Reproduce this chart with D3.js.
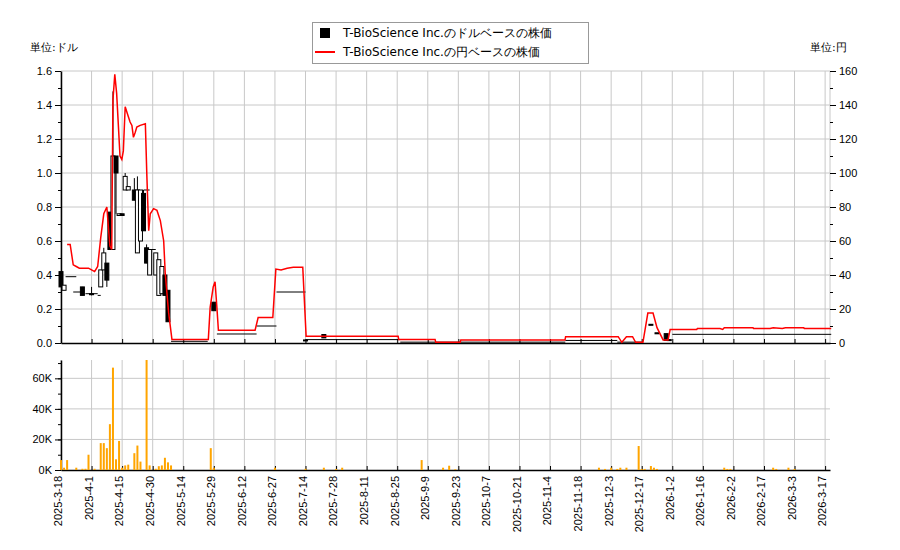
<!DOCTYPE html>
<meta charset="utf-8">
<style>
  body{margin:0;background:#fff;font-family:"DejaVu Sans",sans-serif;}
  text{font-size:11px;}
</style>
<svg id="chart" width="900" height="550"></svg>
<script src="https://d3js.org/d3.v7.min.js"></script>
<script>
// x positions are trading-day indexes (0 = 2025-3-18)
var tickLabels = ["2025-3-18","2025-4-1","2025-4-15","2025-4-30","2025-5-14","2025-5-29","2025-6-12","2025-6-27",
  "2025-7-14","2025-7-28","2025-8-11","2025-8-25","2025-9-9","2025-9-23","2025-10-7","2025-10-21","2025-11-4",
  "2025-11-18","2025-12-3","2025-12-17","2026-1-2","2026-1-16","2026-2-2","2026-2-17","2026-3-3","2026-3-17"];

// yen price line: [day, yen]
var yenLine = [[2,58],[3,58],[4,46],[5,45],[6,44],[9,44],[10,43],[11,42],[12,45],[13,62],[14,76],[15,80],[16,57],[16.6,55],
  [17,143],[17.6,158],[18.2,147],[18.8,127],[19.3,110],[19.9,108],[20.4,113],[21,139],[21.7,135],[22.6,130],[23.2,128],
  [23.7,121],[24.3,124],[24.8,127],[25.9,128],[27.6,129],[28.1,98],[28.7,66],[29.2,76],[30.3,79],[31.4,78],[32.5,72],
  [33.6,60],[34.1,41],[35.2,18],[36.3,2],[48.2,2],[48.8,21],[49.8,33],[50.4,36],[51,21],[51.5,7.5],[63.5,7.5],[64.5,15],
  [69.3,15],[70.3,43.5],[72,43],[74,44],[76,44.5],[79.1,44.5],[80.2,4],[110.3,4],[110.5,2],[122.4,2],[122.6,0.4],
  [130.6,0.4],[130.8,1.8],[164.9,1.8],[165.1,3.7],[182.3,3.7],[183.5,0.4],[185,3.7],[187,3.7],[188,0.4],[190.4,0.4],
  [192,17.6],[193.7,17.6],[195,9],[197,1.8],[198.6,1.8],[199.3,8],[208,8],[208.2,8.5],[215.6,8.5],[216.5,8],[217,9],
  [226.4,9],[226.6,8.5],[232,8.5],[233,9],[236,8.5],[237,9],[243,9],[243.2,8.5],[252,8.5]];

// candles in USD: [day, open, high, low, close]
var candles = [[0,0.42,0.42,0.33,0.33],[1,0.31,0.34,0.31,0.34],[7,0.33,0.33,0.28,0.28],[10,0.29,0.33,0.28,0.29],
  [13,0.33,0.43,0.33,0.43],[14,0.43,0.56,0.43,0.53],[15,0.47,0.47,0.33,0.37],[16,0.77,0.77,0.55,0.55],
  [17,0.55,1.48,0.55,1.1],[18,1.1,1.1,0.76,1.0],[19,0.75,0.76,0.75,0.76],[20,0.76,0.76,0.75,0.75],
  [21,0.9,1.0,0.9,0.98],[22,0.9,0.92,0.9,0.92],[24,0.9,0.97,0.84,0.84],[25,0.53,0.98,0.53,0.9],
  [26,0.6,0.9,0.6,0.9],[27,0.88,0.9,0.66,0.66],[28,0.56,0.58,0.47,0.47],[29,0.4,0.55,0.4,0.55],
  [31,0.4,0.53,0.4,0.53],[32,0.28,0.49,0.28,0.49],[33,0.29,0.45,0.29,0.45],[34,0.4,0.4,0.28,0.28],
  [35,0.31,0.31,0.125,0.125],[50,0.24,0.24,0.19,0.19],[80,0.018,0.018,0.018,0.018],[86,0.05,0.05,0.03,0.03],
  [193,0.11,0.11,0.11,0.11],[195,0.06,0.06,0.06,0.06],[198,0.055,0.055,0.015,0.015],[199,0.02,0.02,0.02,0.02]];

// flat USD price stretches without trades: [from day, to day, price]
var flats = [[1.5,5,0.39],[4,7,0.30],[8,12,0.29],[12,13,0.28],[27,29,0.9],[29,31,0.55],[36,48,0.01],[51,64,0.053],
  [64,70.5,0.1],[70.5,80,0.3],[80,111,0.02],[111,165,0.005],[165,182,0.015],[182,190,0.005],[200,252,0.051]];

// volume: [day, shares in K]
var volume = [[0,6.5],[1,1.5],[2,6.5],[5,1.5],[7,0.8],[8,0.8],[9,10],[11,0.8],[13,17.6],[14,17.6],[15,14.3],[16,30],
  [17,67],[18,7],[19,19],[20,1.5],[21,3],[22,3.5],[24,11],[25,16],[26,5.5],[28,72],[29,3],[31,0.8],[32,2.5],[33,3],
  [34,8],[35,5],[36,3],[49,14.3],[50,1.5],[70,1.5],[80,0.8],[86,1.5],[90,0.7],[92,1.5],[118,6.5],[125,1.5],[127,2.8],
  [129,0.5],[176,1.5],[178,0.7],[180,1.5],[182,0.7],[183,1.5],[185,1.5],[189,15.7],[190,0.7],[191,0.7],[193,2.6],
  [194,1.5],[195,0.7],[217,1.5],[218,0.7],[219,0.7],[233,1.5],[234,0.7],[238,1.5],[240,0.7]];

var svg = d3.select("#chart");
var L = 61, R = 830, T = 71, B = 343, VT = 360, VB = 470;

var x = d3.scaleLinear().domain([0, 251.6]).range([L, R]);
var y = d3.scaleLinear().domain([0, 1.6]).range([B, T]);
var yYen = d3.scaleLinear().domain([0, 160]).range([B, T]);
var yVol = d3.scaleLinear().domain([0, 72]).range([VB, VT]);
var tickIdx = tickLabels.map(function(d, i) { return i * 10; });

// grid
var grid = svg.append("g").attr("stroke", "#c8c8c8").attr("stroke-width", 1);
tickIdx.forEach(function(t) {
  grid.append("line").attr("x1", x(t)).attr("x2", x(t)).attr("y1", T).attr("y2", B);
  grid.append("line").attr("x1", x(t)).attr("x2", x(t)).attr("y1", VT).attr("y2", VB);
});
d3.range(0.2, 1.61, 0.2).forEach(function(v) {
  grid.append("line").attr("x1", L).attr("x2", R).attr("y1", y(v)).attr("y2", y(v));
});
[20, 40, 60].forEach(function(v) {
  grid.append("line").attr("x1", L).attr("x2", R).attr("y1", yVol(v)).attr("y2", yVol(v));
});
grid.append("line").attr("x1", R).attr("x2", R).attr("y1", T).attr("y2", B);

// axes
svg.append("g").attr("transform", "translate(" + L + ",0)")
  .call(d3.axisLeft(y).ticks(8).tickFormat(d3.format(".1f")).tickSizeOuter(0));
svg.append("g").attr("transform", "translate(" + L + ",0)")
  .call(d3.axisLeft(y).ticks(16).tickFormat("").tickSize(3)).select(".domain").remove();
svg.append("g").attr("transform", "translate(" + R + ",0)")
  .call(d3.axisRight(yYen).ticks(8).tickSizeOuter(0)).select(".domain").remove();
svg.append("g").attr("transform", "translate(" + R + ",0)")
  .call(d3.axisRight(yYen).ticks(16).tickFormat("").tickSize(3)).select(".domain").remove();
svg.append("g").attr("transform", "translate(0," + B + ")")
  .call(d3.axisBottom(x).tickValues(tickIdx).tickFormat("").tickSize(-4).tickSizeOuter(0));

svg.append("g").attr("transform", "translate(" + L + ",0)")
  .call(d3.axisLeft(yVol).tickValues([0, 20, 40, 60]).tickFormat(function(d) { return d + "K"; }).tickSizeOuter(0));
svg.append("g").attr("transform", "translate(" + L + ",0)")
  .call(d3.axisLeft(yVol).tickValues(d3.range(0, 71, 10)).tickFormat("").tickSize(3)).select(".domain").remove();
var xa = svg.append("g").attr("transform", "translate(0," + VB + ")")
  .call(d3.axisBottom(x).tickValues(tickIdx).tickFormat(function(d, i) { return tickLabels[i]; }).tickSize(-4).tickSizeOuter(0));
xa.selectAll("text").attr("transform", "rotate(-90)").attr("text-anchor", "end")
  .attr("x", -6).attr("y", -3).attr("dy", "0.35em");
svg.selectAll(".domain").attr("stroke", "#000").attr("stroke-width", 1.5);
svg.selectAll(".tick text").attr("fill", "#000");

// flat stretches
svg.append("g").selectAll("line").data(flats).enter().append("line")
  .attr("x1", function(d) { return x(d[0]); }).attr("x2", function(d) { return x(d[1]); })
  .attr("y1", function(d) { return y(d[2]); }).attr("y2", function(d) { return y(d[2]); })
  .attr("stroke", "#000").attr("stroke-width", 1);

// candles
var cw = 4;
var cg = svg.append("g");
cg.selectAll("line").data(candles).enter().append("line")
  .attr("x1", function(d) { return x(d[0]); }).attr("x2", function(d) { return x(d[0]); })
  .attr("y1", function(d) { return y(d[2]); }).attr("y2", function(d) { return y(d[3]); })
  .attr("stroke", "#000");
cg.selectAll("rect").data(candles).enter().append("rect")
  .attr("x", function(d) { return x(d[0]) - cw / 2; })
  .attr("y", function(d) { return y(Math.max(d[1], d[4])); })
  .attr("width", cw)
  .attr("height", function(d) { return Math.max(1, Math.abs(y(d[1]) - y(d[4]))); })
  .attr("fill", function(d) { return d[4] >= d[1] && d[1] != d[4] ? "#fff" : "#000"; })
  .attr("stroke", "#000").attr("stroke-width", 1);

// yen line
svg.append("path").datum(yenLine)
  .attr("fill", "none").attr("stroke", "#ff0000").attr("stroke-width", 1.5)
  .attr("d", d3.line().x(function(d) { return x(d[0]); }).y(function(d) { return yYen(d[1]); }));

// volume bars
svg.append("g").selectAll("rect").data(volume).enter().append("rect")
  .attr("x", function(d) { return x(d[0]) - 1; })
  .attr("y", function(d) { return yVol(d[1]); })
  .attr("width", 2)
  .attr("height", function(d) { return yVol(0) - yVol(d[1]); })
  .attr("fill", "#ffa500");

// unit labels
svg.append("text").attr("x", 30).attr("y", 51).text("単位:ドル");
svg.append("text").attr("x", 810).attr("y", 51).text("単位:円");

// legend
var lg = svg.append("g");
lg.append("rect").attr("x", 312.5).attr("y", 22.5).attr("width", 276).attr("height", 41)
  .attr("fill", "#fff").attr("stroke", "#999");
lg.append("rect").attr("x", 320).attr("y", 28).attr("width", 10).attr("height", 10).attr("fill", "#000");
lg.append("line").attr("x1", 315).attr("x2", 335).attr("y1", 52).attr("y2", 52).attr("stroke", "#f00").attr("stroke-width", 2);
lg.append("text").attr("x", 343).attr("y", 37).style("font-size", "12px").text("T-BioScience Inc.のドルベースの株価");
lg.append("text").attr("x", 343).attr("y", 56).style("font-size", "12px").text("T-BioScience Inc.の円ベースの株価");
</script>
